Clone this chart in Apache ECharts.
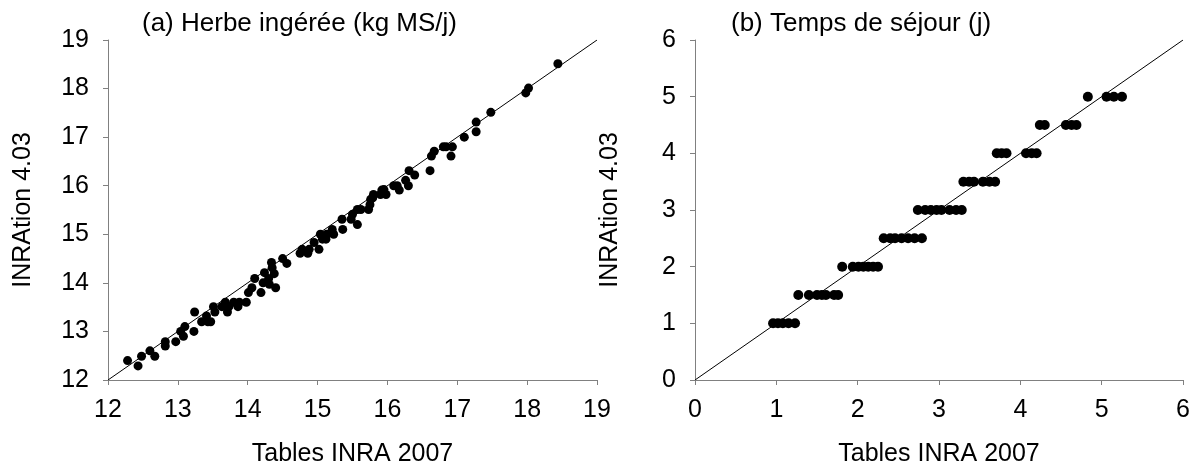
<!DOCTYPE html>
<html>
<head>
<meta charset="utf-8">
<script src="https://cdn.jsdelivr.net/npm/echarts@6/dist/echarts.min.js"></script>
<style>
  html, body { margin: 0; padding: 0; background: #fff; }
  #chart { width: 1194px; height: 475px; }
</style>
</head>
<body>
<div id="chart"></div>
<script>
// (a) herbe ingeree : [Tables INRA 2007, INRAtion 4.03]
const herbePoints = [
  [12.28, 12.40], [12.43, 12.29], [12.48, 12.49], [12.60, 12.60], [12.67, 12.49],
  [12.82, 12.79], [12.82, 12.70], [12.97, 12.79], [13.04, 13.00], [13.08, 12.90],
  [13.10, 13.10], [13.23, 13.00], [13.24, 13.40], [13.34, 13.20], [13.41, 13.32],
  [13.43, 13.20], [13.47, 13.20], [13.51, 13.51], [13.53, 13.40], [13.63, 13.51],
  [13.68, 13.60], [13.71, 13.40], [13.73, 13.51], [13.80, 13.60], [13.86, 13.51],
  [13.88, 13.60], [13.98, 13.60], [14.01, 13.80], [14.06, 13.90], [14.10, 14.09],
  [14.19, 13.80], [14.22, 14.00], [14.24, 14.21], [14.30, 14.09], [14.34, 14.42],
  [14.35, 14.31], [14.38, 14.19], [14.40, 13.90], [14.31, 13.97], [14.50, 14.50],
  [14.56, 14.40], [14.75, 14.61], [14.78, 14.69], [14.86, 14.61], [14.88, 14.69],
  [14.95, 14.83], [15.02, 14.69], [15.04, 15.00], [15.07, 14.90], [15.12, 14.90],
  [15.13, 15.00], [15.21, 15.10], [15.23, 15.00], [15.35, 15.31], [15.36, 15.10],
  [15.48, 15.31], [15.50, 15.41], [15.57, 15.51], [15.57, 15.20], [15.62, 15.51],
  [15.73, 15.51], [15.75, 15.61], [15.76, 15.72], [15.80, 15.82], [15.79, 15.75],
  [15.92, 15.91], [15.95, 15.92], [15.98, 15.82], [15.90, 15.82], [16.09, 16.00],
  [16.14, 16.00], [16.17, 15.91], [16.26, 16.11], [16.30, 16.00], [16.31, 16.31],
  [16.39, 16.22], [16.61, 16.31], [16.63, 16.61], [16.67, 16.71], [16.80, 16.80],
  [16.84, 16.80], [16.91, 16.61], [16.93, 16.80], [17.10, 17.00], [17.27, 17.11],
  [17.27, 17.31], [17.48, 17.51], [17.98, 17.91], [18.02, 18.01], [18.44, 18.51]
];

// (b) temps de sejour : [Tables INRA 2007, INRAtion 4.03]
const sejourPoints = [
  [0.96, 1], [1.02, 1], [1.08, 1], [1.15, 1], [1.23, 1],
  [1.27, 1.5], [1.40, 1.5], [1.50, 1.5], [1.56, 1.5], [1.61, 1.5], [1.71, 1.5], [1.76, 1.5],
  [1.81, 2], [1.94, 2], [2.01, 2], [2.07, 2], [2.13, 2], [2.19, 2], [2.25, 2],
  [2.32, 2.5], [2.40, 2.5], [2.46, 2.5], [2.54, 2.5], [2.62, 2.5], [2.70, 2.5], [2.79, 2.5],
  [2.74, 3], [2.83, 3], [2.90, 3], [2.97, 3], [3.03, 3], [3.13, 3], [3.21, 3], [3.28, 3],
  [3.30, 3.5], [3.37, 3.5], [3.43, 3.5], [3.54, 3.5], [3.62, 3.5], [3.69, 3.5],
  [3.71, 4], [3.77, 4], [3.83, 4], [4.07, 4], [4.14, 4], [4.20, 4],
  [4.24, 4.5], [4.30, 4.5], [4.56, 4.5], [4.63, 4.5], [4.69, 4.5],
  [4.83, 5], [5.06, 5], [5.15, 5], [5.25, 5]
];

const herbeRange = [12, 19];
const sejourRange = [0, 6];

const font = 'Liberation Sans, Arial, sans-serif';
const axisGray = '#808080';

function xAxisFor(idx, range) {
  return {
    type: 'value', gridIndex: idx, min: range[0], max: range[1], interval: 1,
    name: 'Tables INRA 2007', nameLocation: 'middle', nameGap: 62,
    nameTextStyle: { color: '#000', fontSize: 25, fontFamily: font },
    axisLine: { show: true, onZero: false, lineStyle: { color: axisGray, width: 1 } },
    axisTick: { show: true, length: 5, lineStyle: { color: axisGray } },
    axisLabel: { color: '#000', fontSize: 25, fontFamily: font, margin: 18 },
    splitLine: { show: false }
  };
}

function yAxisFor(idx, range) {
  return {
    type: 'value', gridIndex: idx, min: range[0], max: range[1], interval: 1,
    name: 'INRAtion 4.03', nameLocation: 'middle', nameGap: 72, nameRotate: 90,
    nameTextStyle: { color: '#000', fontSize: 25, fontFamily: font },
    axisLine: { show: true, onZero: false, lineStyle: { color: axisGray, width: 1 } },
    axisTick: { show: true, length: 5, lineStyle: { color: axisGray } },
    axisLabel: { color: '#000', fontSize: 25, fontFamily: font, margin: 19 },
    splitLine: { show: false }
  };
}

const chart = echarts.init(document.getElementById('chart'));
chart.setOption({
  animation: false,
  title: [
    { text: '(a) Herbe ingérée (kg MS/j)', left: 137, top: 6,
      textStyle: { fontSize: 26, fontWeight: 'normal', color: '#000', fontFamily: font } },
    { text: '(b) Temps de séjour (j)', left: 726, top: 6,
      textStyle: { fontSize: 26, fontWeight: 'normal', color: '#000', fontFamily: font } }
  ],
  grid: [
    { left: 108, top: 40, width: 489, height: 340 },
    { left: 695, top: 40, width: 488, height: 340 }
  ],
  xAxis: [xAxisFor(0, herbeRange), xAxisFor(1, sejourRange)],
  yAxis: [yAxisFor(0, herbeRange), yAxisFor(1, sejourRange)],
  series: [
    { type: 'line', xAxisIndex: 0, yAxisIndex: 0, symbol: 'none',
      data: [[herbeRange[0], herbeRange[0]], [herbeRange[1], herbeRange[1]]],
      lineStyle: { color: '#000', width: 1 } },
    { type: 'scatter', xAxisIndex: 0, yAxisIndex: 0, data: herbePoints,
      symbolSize: 9, itemStyle: { color: '#000', opacity: 1 } },
    { type: 'line', xAxisIndex: 1, yAxisIndex: 1, symbol: 'none',
      data: [[sejourRange[0], sejourRange[0]], [sejourRange[1], sejourRange[1]]],
      lineStyle: { color: '#000', width: 1 } },
    { type: 'scatter', xAxisIndex: 1, yAxisIndex: 1, data: sejourPoints,
      symbolSize: 10, itemStyle: { color: '#000', opacity: 1 } }
  ]
});
</script>
</body>
</html>
